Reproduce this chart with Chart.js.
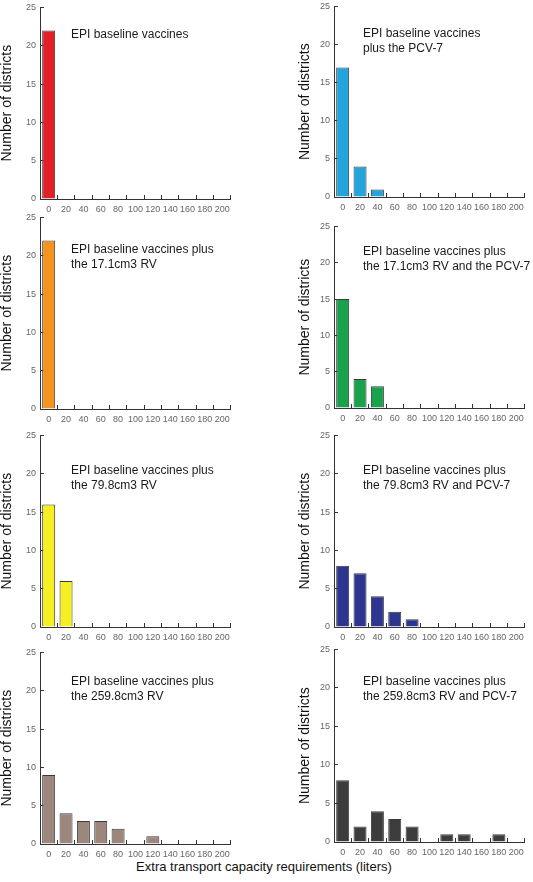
<!DOCTYPE html>
<html>
<head>
<meta charset="utf-8">
<script src="https://cdn.jsdelivr.net/npm/chart.js@4/dist/chart.umd.min.js"></script>
<style>
  html, body { margin: 0; padding: 0; background: #fff; }
  #page { position: relative; width: 533px; height: 882px; overflow: hidden; background: #fff; }
  canvas { position: absolute; }
  #xtitle { position: absolute; left: 0; width: 528px; top: 859px; text-align: center;
            font: 13px Arial, "Liberation Sans", Helvetica, sans-serif; color: #111; line-height: 16px; }
</style>
</head>
<body>
<div id="page">
  <div id="xtitle">Extra transport capacity requirements (liters)</div>
</div>
<script>
// ---- data ----
const categories = ['0','20','40','60','80','100','120','140','160','180','200'];
const yTickStep = 5;
const yMax = 25;
const yTitle = 'Number of districts';

const epiBaseline          = [22, 0, 0, 0, 0, 0, 0, 0, 0, 0, 0];
const epiPcv7              = [17, 4, 1, 0, 0, 0, 0, 0, 0, 0, 0];
const epiRv17              = [22, 0, 0, 0, 0, 0, 0, 0, 0, 0, 0];
const epiRv17Pcv7          = [15, 4, 3, 0, 0, 0, 0, 0, 0, 0, 0];
const epiRv79              = [16, 6, 0, 0, 0, 0, 0, 0, 0, 0, 0];
const epiRv79Pcv7          = [ 8, 7, 4, 2, 1, 0, 0, 0, 0, 0, 0];
const epiRv259             = [ 9, 4, 3, 3, 2, 0, 1, 0, 0, 0, 0];
const epiRv259Pcv7         = [ 8, 2, 4, 3, 2, 0, 1, 1, 0, 1, 0];

const labelsBaseline   = ['EPI baseline vaccines'];
const labelsPcv7       = ['EPI baseline vaccines', 'plus the PCV-7'];
const labelsRv17       = ['EPI baseline vaccines plus', 'the 17.1cm3 RV'];
const labelsRv17Pcv7   = ['EPI baseline vaccines plus', 'the 17.1cm3 RV and the PCV-7'];
const labelsRv79       = ['EPI baseline vaccines plus', 'the 79.8cm3 RV'];
const labelsRv79Pcv7   = ['EPI baseline vaccines plus', 'the 79.8cm3 RV and PCV-7'];
const labelsRv259      = ['EPI baseline vaccines plus', 'the 259.8cm3 RV'];
const labelsRv259Pcv7  = ['EPI baseline vaccines plus', 'the 259.8cm3 RV and PCV-7'];

// ---- layout / style (page pixel geometry of each panel) ----
const FONT = 'Arial, "Liberation Sans", Helvetica, sans-serif';
const panels = [
  { values: epiBaseline,  text: labelsBaseline,  color: '#e3202a', axisX: 40,  right: 233, top: 6,   bottom: 199, titleX: 7,   tx: 71,  ty: 33 },
  { values: epiPcv7,      text: labelsPcv7,      color: '#22a5dd', axisX: 334, right: 527, top: 5,   bottom: 197, titleX: 305, tx: 363, ty: 32 },
  { values: epiRv17,      text: labelsRv17,      color: '#f4931f', axisX: 40,  right: 233, top: 216, bottom: 409, titleX: 7,   tx: 71,  ty: 248 },
  { values: epiRv17Pcv7,  text: labelsRv17Pcv7,  color: '#19a24b', axisX: 334, right: 527, top: 225, bottom: 408, titleX: 305, tx: 363, ty: 250 },
  { values: epiRv79,      text: labelsRv79,      color: '#f6ef22', axisX: 40,  right: 233, top: 434, bottom: 627, titleX: 7,   tx: 71,  ty: 469 },
  { values: epiRv79Pcv7,  text: labelsRv79Pcv7,  color: '#2c3590', axisX: 334, right: 527, top: 434, bottom: 627, titleX: 305, tx: 363, ty: 469 },
  { values: epiRv259,     text: labelsRv259,     color: '#9d867b', axisX: 40,  right: 233, top: 651, bottom: 844, titleX: 7,   tx: 71,  ty: 680 },
  { values: epiRv259Pcv7, text: labelsRv259Pcv7, color: '#3c3c3c', axisX: 334, right: 527, top: 648, bottom: 842, titleX: 305, tx: 363, ty: 680 }
];

const annotationPlugin = {
  id: 'panelText',
  afterDraw(chart, args, opts) {
    const ctx = chart.ctx, ca = chart.chartArea;
    ctx.save();
    ctx.font = '12px ' + FONT;
    ctx.fillStyle = '#1a1a1a';
    ctx.textBaseline = 'middle';
    ctx.textAlign = 'left';
    opts.lines.forEach((line, i) => {
      ctx.fillText(line, ca.left + opts.dx, ca.top + opts.dy + i * 15);
    });
    ctx.restore();
  }
};

const page = document.getElementById('page');
panels.forEach(p => {
  const padTop = 12, padRight = 6, xAxisH = 20;
  const canvasLeft = Math.round(p.titleX - 8);
  const canvasTop = p.top - padTop;
  const w = p.right - canvasLeft + padRight;
  const h = p.bottom - canvasTop + xAxisH;
  const yAxisW = p.axisX - canvasLeft;
  const cv = document.createElement('canvas');
  cv.width = w; cv.height = h;
  cv.style.left = canvasLeft + 'px';
  cv.style.top = canvasTop + 'px';
  cv.style.width = w + 'px';
  cv.style.height = h + 'px';
  page.appendChild(cv);

  new Chart(cv, {
    type: 'bar',
    data: {
      labels: categories,
      datasets: [{
        data: p.values,
        backgroundColor: p.color,
        borderColor: '#3a3a3a',
        borderWidth: 1,
        barPercentage: 0.75,
        categoryPercentage: 1.0
      }]
    },
    options: {
      responsive: false,
      animation: false,
      devicePixelRatio: 1,
      layout: { padding: { left: 0, top: padTop, right: padRight, bottom: 0 } },
      plugins: {
        legend: { display: false },
        tooltip: { enabled: false },
        panelText: { lines: p.text, dx: p.tx - p.axisX, dy: p.ty - p.top }
      },
      scales: {
        x: {
          type: 'category',
          offset: true,
          grid: { display: true, offset: true, drawOnChartArea: false, drawTicks: true, tickLength: -4, color: '#333', lineWidth: 1 },
          border: { display: true, color: '#333', width: 1 },
          ticks: { color: '#666', font: { size: 9, family: FONT }, padding: 9, maxRotation: 0, autoSkip: false },
          afterFit(scale) { scale.height = xAxisH; }
        },
        y: {
          min: 0, max: yMax,
          ticks: { stepSize: yTickStep, color: '#666', font: { size: 9, family: FONT }, padding: 8 },
          grid: { display: true, drawOnChartArea: false, drawTicks: true, tickLength: -4, color: '#333', lineWidth: 1 },
          border: { display: true, color: '#333', width: 1 },
          title: { display: true, text: yTitle, color: '#111', font: { size: 14, family: FONT }, padding: 0 },
          afterFit(scale) { scale.width = yAxisW; }
        }
      }
    },
    plugins: [annotationPlugin]
  });
});
</script>
</body>
</html>
